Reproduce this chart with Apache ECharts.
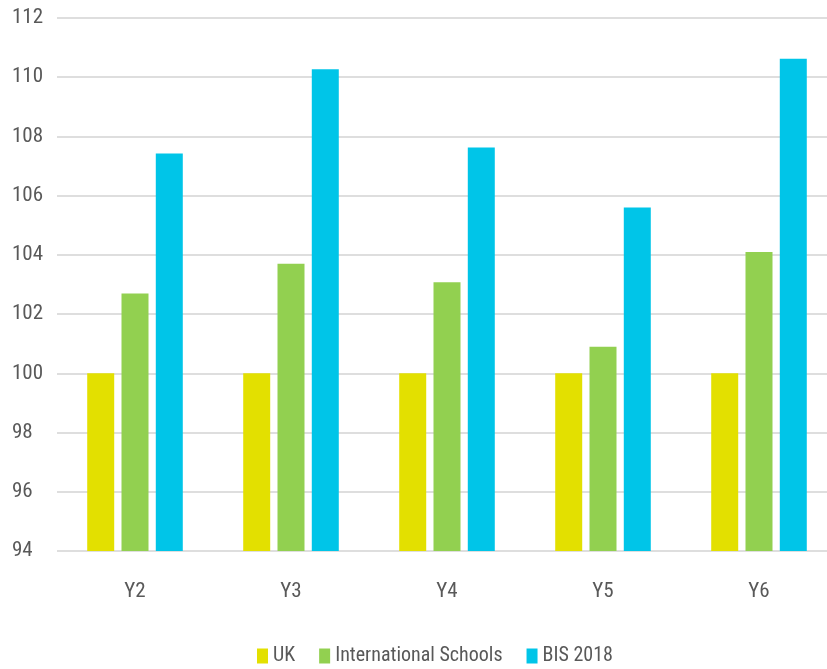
<!DOCTYPE html>
<html><head><meta charset="utf-8">
<script src="https://cdn.jsdelivr.net/npm/echarts@6/dist/echarts.min.js"></script>
<style>html,body{margin:0;padding:0;background:#fff}#c{width:827px;height:669px}</style>
</head><body><div id="c"></div>
<script>
const categories = ['Y2','Y3','Y4','Y5','Y6'];
const ukValues = [100,100,100,100,100];
const intlValues = [102.7,103.7,103.08,100.9,104.1];
const bisValues = [107.42,110.27,107.63,105.6,110.62];
const seriesNames = ['UK','International Schools','BIS 2018'];
const yTicks = {min:94,max:112,interval:2};

const FONT = '"Roboto Condensed","Liberation Sans Narrow",sans-serif';
const chart = echarts.init(document.getElementById('c'));
const colors = ['#e3e000','#92d050','#00c5e8'];
const vals = [ukValues, intlValues, bisValues];
chart.setOption({
  animation:false,
  color: colors,
  grid:{left:57,width:780,top:18,bottom:118,containLabel:false,outerBoundsMode:'none'},
  legend:{
    top:641, left:252,
    itemWidth:11, itemHeight:15, itemGap:24,
    icon:'rect',
    textStyle:{fontFamily:FONT,fontSize:20,color:'#595959'},
    data: seriesNames
  },
  xAxis:{
    type:'category', data:categories,
    axisLine:{show:false}, axisTick:{show:false},
    axisLabel:{fontFamily:FONT,fontSize:21,color:'#595959',margin:30}
  },
  yAxis:{
    type:'value', min:yTicks.min, max:yTicks.max, interval:yTicks.interval,
    axisLine:{show:false}, axisTick:{show:false},
    splitLine:{lineStyle:{color:'#dedede',width:2}},
    axisLabel:{fontFamily:FONT,fontSize:21,color:'#595959',margin:45,align:'left'}
  },
  series: seriesNames.map((n,i)=>({
    name:n, type:'bar', data:vals[i], barWidth:27, barGap:'27%',
    itemStyle:{color:colors[i]}
  }))
});
</script></body></html>
